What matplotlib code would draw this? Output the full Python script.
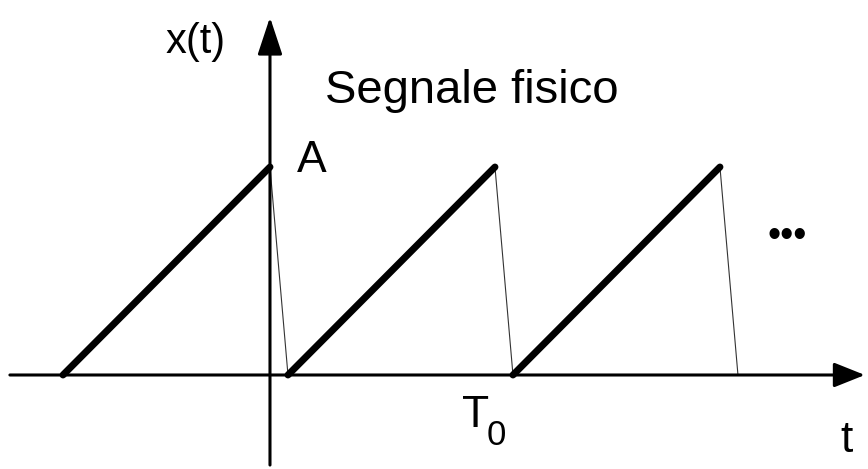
import matplotlib.pyplot as plt

plt.rcParams['font.family'] = ['Liberation Sans', 'DejaVu Sans']

# sawtooth, period T0 = 1, amplitude A = 1
ramp_start = [-0.92, 0.08, 1.08]
ramp_end = [0.0, 1.0, 2.0]
fall_end = [0.08, 1.08, 2.08]
A = 1.0

fig = plt.figure(figsize=(8.68, 4.69), dpi=100)
ax = fig.add_axes([0, 0, 1, 1])
ax.set_xlim(-1.2, 2.658)
ax.set_ylim(-0.452, 1.803)
ax.axis('off')

# axes with arrows
ax.annotate('', xy=(2.644, 0), xytext=(-1.156, 0),
            arrowprops=dict(arrowstyle='-|>,head_length=0.95,head_width=0.38',
                            lw=2.2, color='black', mutation_scale=20,
                            shrinkA=0, shrinkB=0))
ax.annotate('', xy=(0, 1.72), xytext=(0, -0.433),
            arrowprops=dict(arrowstyle='-|>,head_length=1.15,head_width=0.38',
                            lw=2.2, color='black', mutation_scale=20,
                            shrinkA=0, shrinkB=0))

for s, e, f in zip(ramp_start, ramp_end, fall_end):
    ax.plot([s, e], [0, A], color='black', lw=5, solid_capstyle='round', zorder=3)
    ax.plot([e, f], [A, 0], color='#333333', lw=0.8, zorder=2)

ax.text(-0.329, 1.60, 'x(t)', fontsize=30, ha='center', va='center')
ax.text(0.244, 1.308, 'Segnale fisico', fontsize=34, ha='left', va='baseline')
ax.text(0.12, 0.976, 'A', fontsize=32, ha='left', va='baseline')
ax.text(0.853, -0.25, 'T', fontsize=32, ha='left', va='baseline')
ax.text(0.965, -0.337, '0', fontsize=25, ha='left', va='baseline')
ax.text(2.564, -0.37, 't', fontsize=32, ha='center', va='baseline')
ax.text(2.298, 0.663, '•••', fontsize=27, ha='center', va='center')

plt.savefig('out.png', dpi=100)
